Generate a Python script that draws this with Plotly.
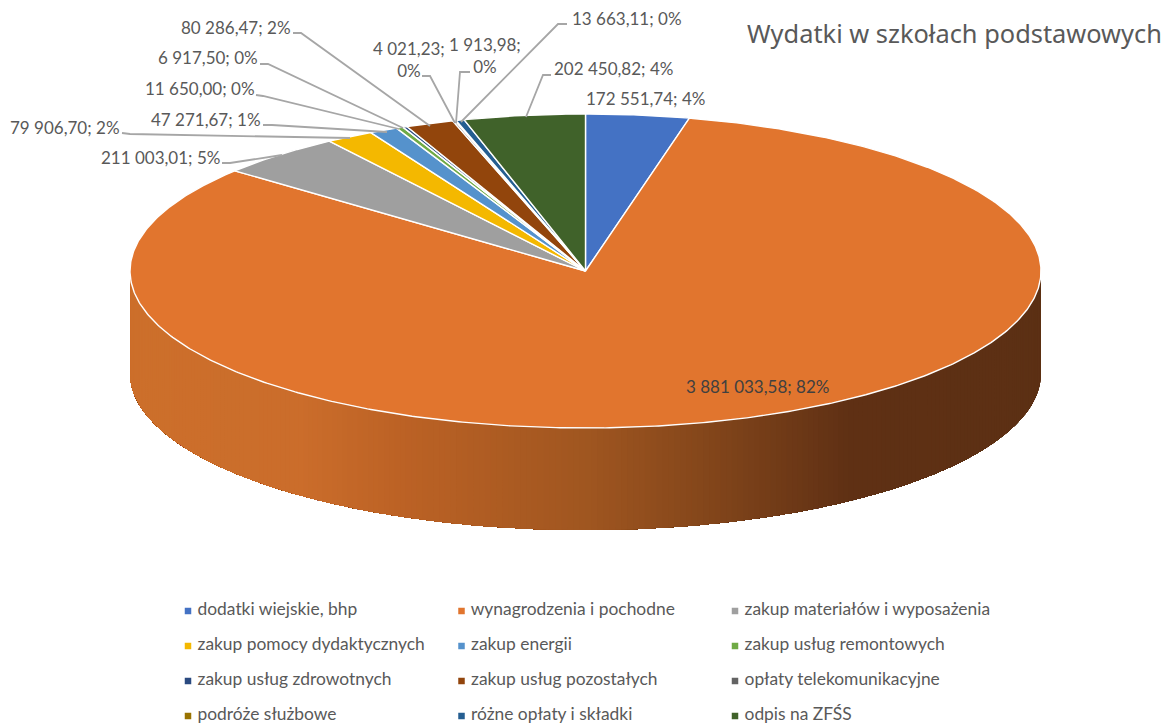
import numpy as np
import plotly.graph_objects as go

TITLE = "Wydatki w szkołach podstawowych"
categories = ["dodatki wiejskie, bhp", "wynagrodzenia i pochodne", "zakup materiałów i wyposażenia",
              "zakup pomocy dydaktycznych", "zakup energii", "zakup usług remontowych",
              "zakup usług zdrowotnych", "zakup usług pozostałych", "opłaty telekomunikacyjne",
              "podróże służbowe", "różne opłaty i składki", "odpis na ZFŚS"]
values = [172551.74, 3881033.58, 211003.01, 79906.70, 47271.67, 11650.00,
          6917.50, 80286.47, 4021.23, 1913.98, 13663.11, 202450.82]
percent_labels = ["4%", "82%", "5%", "2%", "1%", "0%", "0%", "2%", "0%", "0%", "0%", "4%"]
colors = ["#4472c4", "#e1752e", "#9f9f9f", "#f4b800", "#5592cc", "#6faa45",
          "#2a4a80", "#92450c", "#636363", "#997300", "#255e91", "#40622a"]

# Geometry of the drawing, in page pixels
CX, CY, RX, RY, DEPTH = 585.5, 271.0, 455.5, 157.0, 102.0
FONT = "Lato"
TXT = "#595959"

# Label anchor (left x, centre y) and leader polyline per category
label_pos = [(585, 98), (685, 386), (100, 157), (9, 127), (150, 119), (144, 88),
             (157, 57), (180, 27), (372, 59), (448, 55), (571, 18), (553, 68)]
label_wrap = [False, False, False, False, False, False, False, False, True, True, False, False]
leaders = {
    2: [(222, 163), (230, 163), (282, 155)],
    3: [(122, 133), (130, 134), (350, 138)],
    4: [(263, 125), (272, 125), (387, 132)],
    5: [(256, 95), (263, 96), (399, 129)],
    6: [(260, 64), (268, 64), (403, 128)],
    7: [(293, 33), (301, 33), (430, 126)],
    8: [(422, 76), (430, 76), (455, 123)],
    9: [(470, 72), (460, 72), (456, 123)],
    10: [(567, 24), (558, 24), (461, 122)],
    11: [(551, 75), (543, 75), (526, 117)],
}
wall_stops_x = [130, 300, 400, 585, 700, 850, 1041]
wall_stops_rgb = [(204, 111, 43), (203, 109, 43), (188, 98, 37), (160, 86, 32),
                  (133, 71, 27), (95, 48, 20), (92, 48, 20)]


def fmt(v):
    whole, dec = f"{v:.2f}".split(".")
    groups = []
    while whole:
        groups.insert(0, whole[-3:])
        whole = whole[:-3]
    return " ".join(groups) + "," + dec


fig = go.Figure()

# Side wall: painted right to left, each layer covering everything further left, so no seams show
a = np.linspace(0, np.pi, 241)
for i in range(len(a) - 1):
    seg = a[i:]
    xs = CX + RX * np.cos(seg)
    yt = CY + RY * np.sin(seg)
    xm = CX + RX * np.cos((a[i] + a[i + 1]) / 2)
    rgb = [np.interp(xm, wall_stops_x, [c[k] for c in wall_stops_rgb]) for k in range(3)]
    col = f"rgb({rgb[0]:.0f},{rgb[1]:.0f},{rgb[2]:.0f})"
    fig.add_trace(go.Scatter(
        x=np.r_[xs, xs[::-1]], y=np.r_[yt, (yt + DEPTH)[::-1]], mode="none", fill="toself",
        fillcolor=col, hoverinfo="skip", showlegend=False))

# Top face: wedges computed from the values
total = sum(values)
start = 0.0
for v, c, name in zip(values, colors, categories):
    stop = start + v / total * 2 * np.pi
    t = np.linspace(start, stop, max(3, int((stop - start) * 120)))
    xs = np.r_[CX, CX + RX * np.sin(t), CX]
    ys = np.r_[CY, CY - RY * np.cos(t), CY]
    fig.add_trace(go.Scatter(x=xs, y=ys, mode="lines", fill="toself", fillcolor=c, name=name,
                             line=dict(color="white", width=1.4), hoverinfo="name", showlegend=False))
    start = stop

# Leader lines
for pts in leaders.values():
    fig.add_trace(go.Scatter(x=[p[0] for p in pts], y=[p[1] for p in pts], mode="lines",
                             line=dict(color="#a6a6a6", width=1.8), hoverinfo="skip", showlegend=False))

# Data labels
anns = []
for i, (v, pct) in enumerate(zip(values, percent_labels)):
    text = f"{fmt(v)};<br>{pct}" if label_wrap[i] else f"{fmt(v)}; {pct}"
    anns.append(dict(x=label_pos[i][0], y=label_pos[i][1], xref="x", yref="y", text=text,
                     showarrow=False, xanchor="left", yanchor="middle", align="center", borderpad=0,
                     font=dict(family=FONT, size=17, color="#404040" if i == 1 else TXT)))
anns.append(dict(x=746, y=33, xref="x", yref="y", text=TITLE, showarrow=False, xanchor="left",
                 yanchor="middle", borderpad=0, font=dict(family="Noto Sans", size=25.4, color="#595959")))

# Legend grid, three columns by four rows
for i, (name, c) in enumerate(zip(categories, colors)):
    col, row = i % 3, i // 3
    fig.add_trace(go.Scatter(x=[188 + 273.5 * col], y=[611 + 35 * row], mode="markers+text",
                             marker=dict(symbol="square", size=6.5, color=c),
                             text=[" " + name], textposition="middle right",
                             textfont=dict(family=FONT, size=17.4, color=TXT),
                             hoverinfo="skip", showlegend=False))

fig.update_layout(
    width=1169, height=727, margin=dict(l=0, r=0, t=0, b=0), paper_bgcolor="white", plot_bgcolor="white",
    xaxis=dict(range=[0, 1169], visible=False, fixedrange=True),
    yaxis=dict(range=[727, 0], visible=False, fixedrange=True),
    annotations=anns, showlegend=False,
)
fig.write_html("out.html", post_script="document.body.style.margin='0';document.documentElement.style.overflow='hidden';",
               config={"displayModeBar": False})
